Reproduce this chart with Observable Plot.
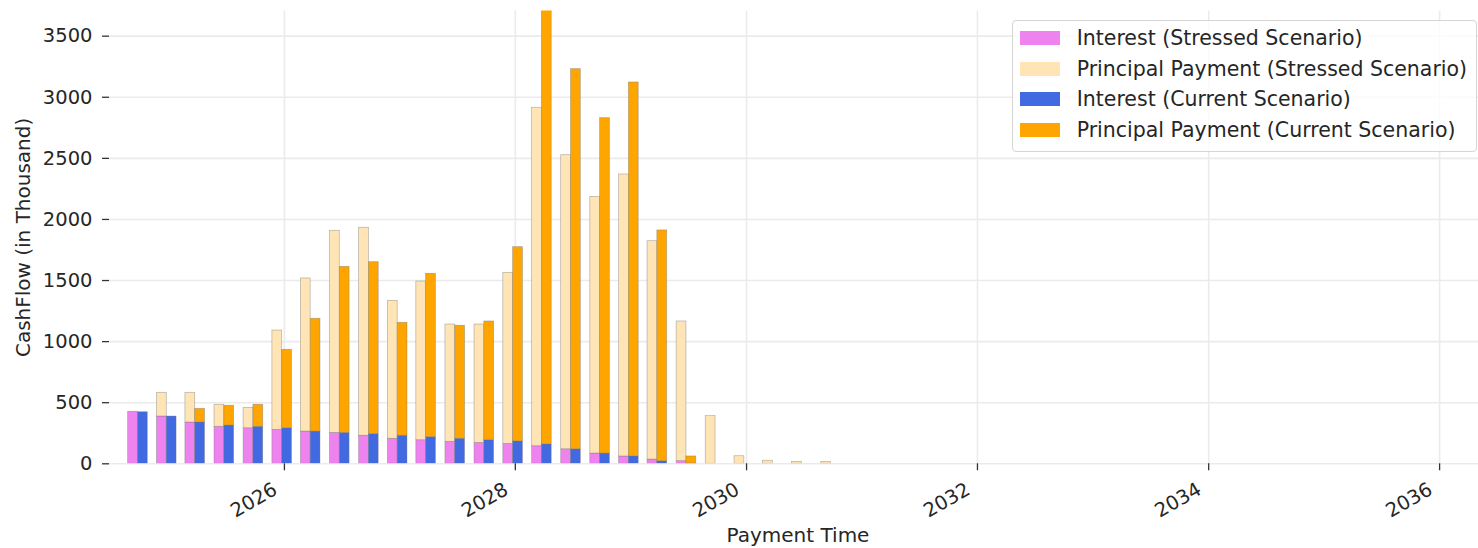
<!DOCTYPE html>
<html><head><meta charset="utf-8">
<script src="https://cdn.jsdelivr.net/npm/d3@7"></script>
<script src="https://cdn.jsdelivr.net/npm/@observablehq/plot@0.6"></script>
<style>
html,body{margin:0;padding:0;background:#fff;overflow:hidden;}
#wrap{position:relative;width:1478px;height:548px;font-family:"DejaVu Sans",sans-serif;}
#wrap svg{display:block;}
.legend{position:absolute;left:1012px;top:20px;width:463px;height:130px;border:1px solid #d5d5d5;border-radius:4px;background:rgba(255,255,255,0.8);box-sizing:content-box;}
.row{position:absolute;left:7px;height:20px;display:flex;align-items:center;font-size:20.5px;color:#262626;white-space:nowrap;}
.sw{width:40px;height:14px;margin-right:16.7px;flex:none;}
</style></head><body><div id="wrap"></div>
<script>
// ---- data (CashFlow in thousand) ----
const paymentDates = [
  "2024-09-25","2024-12-25","2025-03-25","2025-06-25","2025-09-25","2025-12-25",
  "2026-03-25","2026-06-25","2026-09-25","2026-12-25","2027-03-25","2027-06-25",
  "2027-09-25","2027-12-25","2028-03-25","2028-06-25","2028-09-25","2028-12-25",
  "2029-03-25","2029-06-25","2029-09-25","2029-12-25","2030-03-25","2030-06-25","2030-09-25"
];
const stressedInterest  = [426,387,338,303,291,278,264,253,230,205,193,180,171,163,144,119,84,60,35,22,0,0,0,0,0];
const stressedPrincipal = [0,194,243,180,167,813,1253,1654,1702,1129,1299,960,969,1400,2770,2407,2101,2308,1787,1143,390,62,25,15,15];
const currentInterest   = [422,387,338,313,303,291,264,253,243,230,218,205,193,183,158,119,84,60,21,3,0,0,0,0,0];
const currentPrincipal  = [0,0,112,162,180,642,923,1359,1407,924,1337,925,972,1590,3562,3111,2745,3061,1889,57,0,0,0,0,0];

const seriesNames = [
  "Interest (Stressed Scenario)",
  "Principal Payment (Stressed Scenario)",
  "Interest (Current Scenario)",
  "Principal Payment (Current Scenario)"
];
const seriesColors = ["violet", "moccasin", "royalblue", "orange"];
const yTicks = [0, 500, 1000, 1500, 2000, 2500, 3000, 3500];
const xTickLabels = ["2026", "2028", "2030", "2032", "2034", "2036"];
const xLabel = "Payment Time";
const yLabel = "CashFlow (in Thousand)";

// ---- build table ----
const parse = d3.utcParse("%Y-%m-%d");
const DAY = 864e5;
const barDays = 31;
const rows = [];
paymentDates.forEach((s, i) => {
  const t = parse(s);
  const sx1 = new Date(+t - barDays * DAY), sx2 = t;
  const cx1 = t, cx2 = new Date(+t + barDays * DAY);
  const parts = [
    [seriesNames[0], sx1, sx2, 0, stressedInterest[i]],
    [seriesNames[1], sx1, sx2, stressedInterest[i], stressedInterest[i] + stressedPrincipal[i]],
    [seriesNames[2], cx1, cx2, 0, currentInterest[i]],
    [seriesNames[3], cx1, cx2, currentInterest[i], currentInterest[i] + currentPrincipal[i]]
  ];
  for (const [series, x1, x2, y1, y2] of parts) {
    if (y2 > y1) rows.push({series, x1, x2, y1, y2});
  }
});
const xTickDates = xTickLabels.map(y => parse(y + "-01-01"));

const chart = Plot.plot({
  width: 1478, height: 548,
  marginTop: 10.5, marginBottom: 84.7, marginLeft: 109, marginRight: 0,
  style: {fontFamily: "DejaVu Sans", fontSize: "19.5px", color: "#262626", background: "white", overflow: "visible"},
  x: {type: "utc", domain: [parse("2024-06-27"), parse("2036-05-03")]},
  y: {domain: [0, 3706]},
  color: {domain: seriesNames, range: seriesColors},
  marks: [
    Plot.gridY(yTicks, {stroke: "#ebebeb", strokeOpacity: 1, strokeWidth: 1.6}),
    Plot.gridX(xTickDates, {stroke: "#ebebeb", strokeOpacity: 1, strokeWidth: 1.6}),
    Plot.rect(rows, {x1: "x1", x2: "x2", y1: "y1", y2: "y2", fill: "series",
      stroke: "#7a7a7a", strokeOpacity: 0.55, strokeWidth: 0.7, clip: true}),
    Plot.axisY(yTicks, {tickSize: 7, tickPadding: 10, stroke: "#333", strokeWidth: 1.3, label: null, tickFormat: d => String(d)}),
    Plot.axisX(xTickDates, {tickSize: 7, tickFormat: () => "", label: null, stroke: "#333", strokeWidth: 1.3}),
    Plot.text(xTickDates, {x: d => d, text: (d, i) => xTickLabels[i], frameAnchor: "bottom",
      dx: -9, dy: 24, rotate: -30, textAnchor: "end", lineAnchor: "middle", fontSize: 19.5, fill: "#262626"}),
    Plot.text([yLabel], {text: d => d, frameAnchor: "left", textAnchor: "middle", lineAnchor: "middle", dx: -86, rotate: -90, fontSize: 20, fill: "#262626"}),
    Plot.text([xLabel], {text: d => d, frameAnchor: "bottom", textAnchor: "middle", lineAnchor: "middle", dx: 4, dy: 72, fontSize: 20, fill: "#262626"})
  ]
});
const wrap = document.getElementById("wrap");
wrap.appendChild(chart);

// legend (HTML, overlaid at upper right as in the reference)
const legend = document.createElement("div");
legend.className = "legend";
const rowTops = [6.7, 38, 68.3, 99.3];
seriesNames.forEach((name, i) => {
  const r = document.createElement("div");
  r.className = "row";
  r.style.top = rowTops[i] + "px";
  const sw = document.createElement("span");
  sw.className = "sw";
  sw.style.background = seriesColors[i];
  const tx = document.createElement("span");
  tx.textContent = name;
  r.appendChild(sw); r.appendChild(tx);
  legend.appendChild(r);
});
wrap.appendChild(legend);
</script>
</body></html>
